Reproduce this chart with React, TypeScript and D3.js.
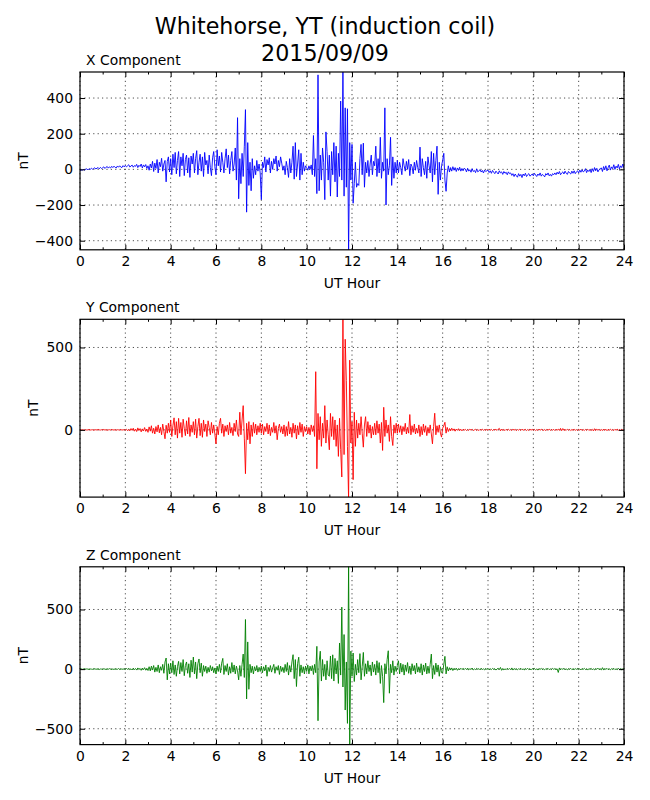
import React, { useRef, useEffect } from 'react';
import * as d3 from 'd3';

// one sample every 3 minutes, 0..24 UT hours (481 samples per component)
const STEP_HOURS = 0.05;

const X_TICKS = [0, 2, 4, 6, 8, 10, 12, 14, 16, 18, 20, 22, 24];
const X_MINOR = [1, 3, 5, 7, 9, 11, 13, 15, 17, 19, 21, 23];

const X_Y_TICKS = [-400, -200, 0, 200, 400];
const Y_Y_TICKS = [0, 500];
const Z_Y_TICKS = [-500, 0, 500];

// nT, one row per hour
const xComponent = [
  -8, -2, -6, 2, -5, 1, 3, -3, 4, 0, 6, 1, 5, 9, 2, 7, 10, 3, 11, 5,
  9, 14, 5, 12, 16, 7, 14, 8, 17, 10, 18, 11, 8, 19, 12, 20, 13, 10, 21, 14,
  22, 14, 20, 26, 13, 19, 24, 12, 21, 17, 28, 10, 23, 16, 30, 8, 25, 14, 27, 5,
  20, -5, 30, 8, 45, -12, 35, 5, 55, -20, 40, 15, 62, -10, 30, 50, -70, 45, 70, -15,
  60, -30, 85, 10, 95, -25, 50, 100, -40, 70, 20, 90, -35, 55, 80, -20, 65, -45, 75, 30,
  90, -20, 60, 105, -30, 40, 85, -10, 70, -40, 95, 25, 50, -25, 80, 10, -35, 65, 100, 15,
  -30, 110, 20, 75, -15, 95, 40, -20, 60, 115, 10, 80, -25, 50, 100, -10, 30, 120, -60, 290,
  -165, 60, -80, 90, -40, 130, 335, -240, 150, -90, 40, -120, 60, -50, 20, -30, 50, -10, 30, -20,
  -170, 40, 10, 70, -15, 55, 25, 65, -20, 45, 0, 60, 30, 75, -10, 50, 15, 70, 35, -5,
  20, -30, 45, 10, -45, 60, -20, 40, 130, -55, 150, -40, 30, 110, -60, 90, -30, 40, -10, 20,
  10, -5, 20, 0, 25, -30, 190, -40, 60, -136, 530, -120, 80, -60, 120, 40, -170, 210, 100, -60,
  80, -150, 100, -30, 150, -70, 130, -155, 90, -40, 383, -60, 560, -150, 345, -100, 340, -470, 150, -60,
  140, -190, -80, 40, -100, -80, -90, 60, 140, -30, 147, -100, 40, -20, 50, -40, 30, 80, -30, 45,
  20, 130, -40, 60, -20, 180, -50, 40, -10, 345, -200, 60, -30, 20, 180, -90, 70, -50, 40, -20,
  50, -20, 40, 10, -30, 60, 20, -10, 45, 0, 55, -35, 30, 15, -25, 40, -5, 50, 10, -20,
  125, -40, 60, 10, -30, 45, -50, 70, 20, -20, 100, -70, 90, -30, 50, 130, -140, 40, -60, 20,
  50, 90, -60, -123, -20, 20, -15, 10, -10, 15, -5, 10, -12, 8, -6, 12, -10, 5, -8, 6,
  2, -14, 6, -10, -2, -16, 4, -12, -6, -18, 3, -14, -8, -2, -15, -6, -20, -4, -12, -8,
  -4, -18, -8, -22, -6, -16, -24, -10, -18, -26, -8, -20, -14, -28, -12, -22, -16, -30, -14, -24,
  -20, -34, -24, -40, -26, -36, -44, -24, -38, -28, -46, -26, -36, -22, -40, -30, -24, -38, -32, -26,
  -36, -22, -32, -40, -26, -34, -20, -38, -28, -34, -42, -24, -32, -20, -36, -28, -38, -24, -30, -20,
  -30, -16, -26, -12, -30, -20, -14, -26, -10, -22, -28, -12, -20, -26, -10, -22, -8, -24, -14, -8,
  -20, -4, -16, -2, -14, -10, 4, -18, -4, -12, 0, -18, 4, -12, 10, -8, 6, -14, -2, 4,
  8, -12, 16, -2, 20, -8, 10, 24, -4, 14, 4, 26, 0, 18, 8, 28, 2, 20, 10, 30,
  5,
];

const yComponent = [
  0, -1, 1, 0, -2, 1, -1, 0, 2, -1, 0, 1, -2, 0, 1, -1, 2, 0, -1, 1,
  0, 2, -1, 1, -2, 0, 1, -1, 2, 0, -1, 1, -2, 1, 0, -1, 2, -1, 0, 1,
  -2, 4, -5, 3, -6, 8, -3, 10, -8, 5, -10, 12, -4, 8, -12, 6, -7, 14, -9, 5,
  -15, 18, -8, 25, -20, 10, -25, 20, -12, 30, -18, 15, -30, 35, -10, -54, 28, -20, 40, -15,
  60, -40, 25, 73, -30, 50, -50, 70, -20, 45, -45, 65, 10, -35, 55, -25, 75, -40, 30, -15,
  50, -30, 65, -50, 20, 70, -35, 40, -45, 60, -10, 35, -40, 55, 15, -30, 45, -20, 30, -25,
  -85, 20, -30, 40, 70, -20, 35, -40, 25, -10, 30, -30, 45, -20, 15, -35, 40, -10, 60, -25,
  -40, 107, -30, 60, 147, -50, -266, 40, -60, 50, -85, 30, -40, 45, -20, 35, -30, 25, -15, 40,
  -20, 35, -30, 20, -10, 40, -25, 30, -35, 15, -15, 45, -20, 25, -60, 10, 35, -15, 20, -25,
  30, -40, 20, -35, 50, -25, 15, -45, 40, -20, 30, -55, 25, -30, 45, -15, 35, -40, 20, -10,
  20, -25, 15, -30, 30, -10, 25, -40, 353, -236, 100, -60, 80, -100, 40, -50, 147, -80, 60, -30,
  -121, 100, -40, 80, -60, 60, -100, 30, -161, 70, -120, -286, 690, -150, 550, 300, -100, -420, 423, -80,
  50, -302, 107, -100, 60, -50, 40, -30, 80, -20, -105, 30, 80, -40, 50, -20, 30, -50, 20, -30,
  40, -30, 55, -20, 35, -80, 45, -125, 137, -40, 60, -20, 30, -70, 80, -40, -95, 30, -20, 40,
  -20, 35, -15, 25, -30, 20, -10, 40, -25, 15, -20, 93, -30, 25, -15, 35, -25, 10, -20, 30,
  -40, 20, -30, 35, -15, 25, -35, 15, -20, 30, -25, -85, 20, 101, -30, 25, -15, 30, -20, -44,
  10, 25, 46, -20, 15, -10, 8, -6, 10, -4, 6, -8, 5, -3, 7, -5, 4, -6, 3, -2,
  3, -4, 2, -3, 4, -2, 3, -4, 0, 3, -3, 2, -4, 3, -2, 4, -3, 2, -2, 3,
  -3, 4, -2, 3, -4, 2, 0, 3, -3, 4, 9, -6, 5, -3, 2, -4, 3, -2, 4, -3,
  2, -3, 4, -2, 3, -4, 2, -2, 3, -3, 4, -2, 0, 3, -4, 2, -3, 4, -2, 3,
  -2, 3, -4, 2, -3, 4, -2, 3, 0, -3, 2, -4, 3, -2, 4, -3, 2, -2, 3, -4,
  3, -2, 4, -3, 9, -5, 8, -3, 2, -3, 4, -2, 3, -4, 2, -2, 3, -3, 2, -4,
  3, -2, 4, -3, 2, -4, 3, -2, 4, -3, 2, -3, 3, -6, 7, -4, 4, -2, 3, -4,
  2, -4, 5, -3, 4, -5, 3, -2, 4, -3, 2, -4, 3, -2, 4, -3, 2, -3, 3, -2,
  0,
];

const zComponent = [
  0, 2, -2, 1, 3, -1, 2, 0, -3, 1, 0, -2, 2, 3, -1, 0, 2, -3, 1, 0,
  -2, 3, 0, -3, 2, -1, 4, 0, -2, 1, -3, 3, 0, -2, 5, -3, 2, 0, -1, 3,
  -3, 5, -2, 6, -5, 3, -7, 8, -4, 5, -8, 10, -3, 6, -10, 8, -5, 12, -9, 6,
  -12, 20, -15, 25, -8, 30, -25, 15, -20, 35, -30, 20, -10, 40, -35, 60, 93, -90, 45, -40,
  50, -30, 70, -45, 35, -60, 20, 65, -40, 55, -20, 80, -55, 30, 60, -35, 45, -70, 75, -25,
  101, -40, 60, -80, 45, 85, -30, 50, -60, 30, -20, 25, -35, 15, -25, 30, -15, 20, -30, 10,
  -40, 25, -20, 40, -30, 50, 90, -45, 30, -20, 45, -50, 20, -35, 55, -25, 35, -40, 25, -15,
  -90, 30, -60, 40, 126, -70, 416, -250, 228, -169, 40, -30, 25, -40, 20, -15, 30, -25, 15, -20,
  25, -30, 20, -15, 35, -60, 15, -20, 30, -25, 10, 40, -35, 20, -10, 30, -45, 25, -20, 15,
  -30, 40, -20, 55, -50, 30, -25, 60, 121, -80, 80, -146, 45, 100, -60, 35, -30, 20, -40, 25,
  -20, 35, -40, 25, -15, 30, -45, 40, -30, 191, -433, 60, 150, -100, 80, -60, 40, -90, 70, -50,
  -60, 110, -80, 120, -100, 90, -40, 70, -120, 219, -50, 520, -150, 290, -343, 60, -455, 870, -640, 150,
  -60, 135, -104, 40, -50, 80, -30, 130, -90, 20, 140, -60, 45, -40, 70, -20, 35, -55, 60, -25,
  40, -50, 70, -30, 55, -120, 30, -60, -281, 45, -40, 80, 154, -202, 40, -30, 70, -50, 25, -20,
  30, 70, -40, 50, -25, 40, -50, 35, -20, 55, -35, 25, -45, 45, -15, 30, -40, 50, -25, 20,
  -30, 45, -50, 35, -20, 50, -40, 25, -35, 40, 126, -80, 30, -45, 50, -25, 35, -60, 20, -30,
  -30, 40, 107, -40, 20, -15, 12, -8, 10, -12, 6, -5, 8, -10, 4, -6, 7, -3, 5, -4,
  6, -4, 8, -6, 3, -2, 9, -7, 2, -4, 6, -2, 4, -6, 7, -3, 2, -5, 4, -2,
  4, -6, 2, -4, 6, -2, 3, -8, 2, 6, -4, 14, -10, 4, -6, 2, -4, 6, -2, 4,
  -4, 10, -8, 5, -3, 2, -6, 4, -2, 6, -4, 2, -7, 4, -2, 6, -4, 2, -6, 4,
  -2, 6, -4, 2, -8, 4, -2, 6, -4, 2, -6, 4, -2, 6, -4, 2, -4, 6, -2, 4,
  -4, 2, -28, 10, -6, 4, -2, 6, -4, 2, -6, 4, -2, 6, -4, 2, -4, 4, -2, 6,
  -4, 2, -6, 4, -2, 6, -4, 2, -8, 4, -2, 6, -4, 2, -6, 4, -2, 8, -4, 2,
  -6, 12, -8, 4, -2, 6, -4, 2, -6, 4, -2, 6, -4, 2, -4, 6, -2, 4, -6, 2,
  0,
];

const PANELS = [
  { title: 'X Component', values: xComponent, color: '#0000ff', domain: [-451, 546], ticks: X_Y_TICKS, labelX: 28 },
  { title: 'Y Component', values: yComponent, color: '#ff0000', domain: [-408, 671], ticks: Y_Y_TICKS, labelX: 38 },
  { title: 'Z Component', values: zComponent, color: '#008000', domain: [-633, 858], ticks: Z_Y_TICKS, labelX: 28 },
];

const FONT = '"DejaVu Sans", sans-serif';
const fmt = (v: number) => (v < 0 ? `\u2212${Math.abs(v)}` : `${v}`);

export default function App() {
  const ref = useRef<SVGSVGElement | null>(null);

  useEffect(() => {
    const svg = d3.select(ref.current);
    svg.selectAll('*').remove();

    const W = 650;
    const left = 80;
    const plotW = 544;
    const plotH = 177.8;
    const tops = [72, 319.3, 566.8];

    svg.append('rect').attr('width', W).attr('height', 800).attr('fill', '#fff');

    // Title
    const title = svg.append('text')
      .attr('text-anchor', 'middle')
      .attr('font-size', 22.2)
      .attr('font-family', FONT)
      .attr('fill', '#000');
    title.append('tspan').attr('x', W / 2).attr('y', 34).text('Whitehorse, YT (induction coil)');
    title.append('tspan').attr('x', W / 2).attr('y', 60.6).text('2015/09/09');

    const x = d3.scaleLinear().domain([0, 24]).range([0, plotW]);
    const defs = svg.append('defs');

    PANELS.forEach((p, i) => {
      const top = tops[i];
      const y = d3.scaleLinear().domain(p.domain).range([plotH, 0]);
      const g = svg.append('g').attr('transform', `translate(${left},${top})`);

      defs.append('clipPath').attr('id', `clip-${i}`)
        .append('rect').attr('width', plotW).attr('height', plotH);

      // dotted grid
      g.append('g').selectAll('line').data(X_TICKS).join('line')
        .attr('x1', d => x(d)).attr('x2', d => x(d))
        .attr('y1', 0).attr('y2', plotH);
      g.append('g').selectAll('line').data(p.ticks).join('line')
        .attr('x1', 0).attr('x2', plotW)
        .attr('y1', d => y(d)).attr('y2', d => y(d));
      g.selectAll('g line')
        .attr('stroke', '#000')
        .attr('stroke-width', 0.7)
        .attr('stroke-dasharray', '1.2,3.2');

      // data
      const line = d3.line<number>()
        .x((_, j) => x(j * STEP_HOURS))
        .y(d => y(d));
      g.append('path')
        .datum(p.values)
        .attr('clip-path', `url(#clip-${i})`)
        .attr('fill', 'none')
        .attr('stroke', p.color)
        .attr('stroke-width', 0.9)
        .attr('stroke-linejoin', 'round')
        .attr('d', line);

      // ticks (inward on all sides)
      const style = (sel: d3.Selection<SVGGElement, unknown, null, undefined>) => {
        sel.select('.domain').remove();
        sel.selectAll('line').attr('stroke', '#000').attr('stroke-width', 1);
        sel.selectAll('text').attr('font-size', 13.9).attr('font-family', FONT).attr('fill', '#000');
      };
      g.append('g').attr('transform', `translate(0,${plotH})`)
        .call(d3.axisBottom(x).tickValues(X_TICKS).tickSize(-5).tickPadding(6.5).tickFormat(d => `${d}`))
        .call(style);
      g.append('g').attr('transform', `translate(0,${plotH})`)
        .call(d3.axisBottom(x).tickValues(X_MINOR).tickSize(-2.5).tickFormat(() => ''))
        .call(style);
      g.append('g')
        .call(d3.axisTop(x).tickValues(X_TICKS).tickSize(-5).tickFormat(() => ''))
        .call(style);
      g.append('g')
        .call(d3.axisTop(x).tickValues(X_MINOR).tickSize(-2.5).tickFormat(() => ''))
        .call(style);
      g.append('g')
        .call(d3.axisLeft(y).tickValues(p.ticks).tickSize(-5).tickPadding(7).tickFormat(d => fmt(+d)))
        .call(style);
      g.append('g').attr('transform', `translate(${plotW},0)`)
        .call(d3.axisRight(y).tickValues(p.ticks).tickSize(-5).tickFormat(() => ''))
        .call(style);

      // frame
      g.append('rect')
        .attr('width', plotW).attr('height', plotH)
        .attr('fill', 'none').attr('stroke', '#000').attr('stroke-width', 1.2);

      // labels
      g.append('text')
        .attr('x', 6).attr('y', -7)
        .attr('font-size', 13.9).attr('font-family', FONT)
        .text(p.title);
      g.append('text')
        .attr('x', plotW / 2).attr('y', plotH + 38)
        .attr('text-anchor', 'middle')
        .attr('font-size', 13.9).attr('font-family', FONT)
        .text('UT Hour');
      svg.append('text')
        .attr('transform', `translate(${p.labelX},${top + plotH / 2}) rotate(-90)`)
        .attr('text-anchor', 'middle')
        .attr('font-size', 13.9).attr('font-family', FONT)
        .text('nT');
    });
  }, []);

  return (
    <svg
      ref={ref}
      width={650}
      height={800}
      style={{ position: 'absolute', left: 0, top: 0 }}
    />
  );
}
